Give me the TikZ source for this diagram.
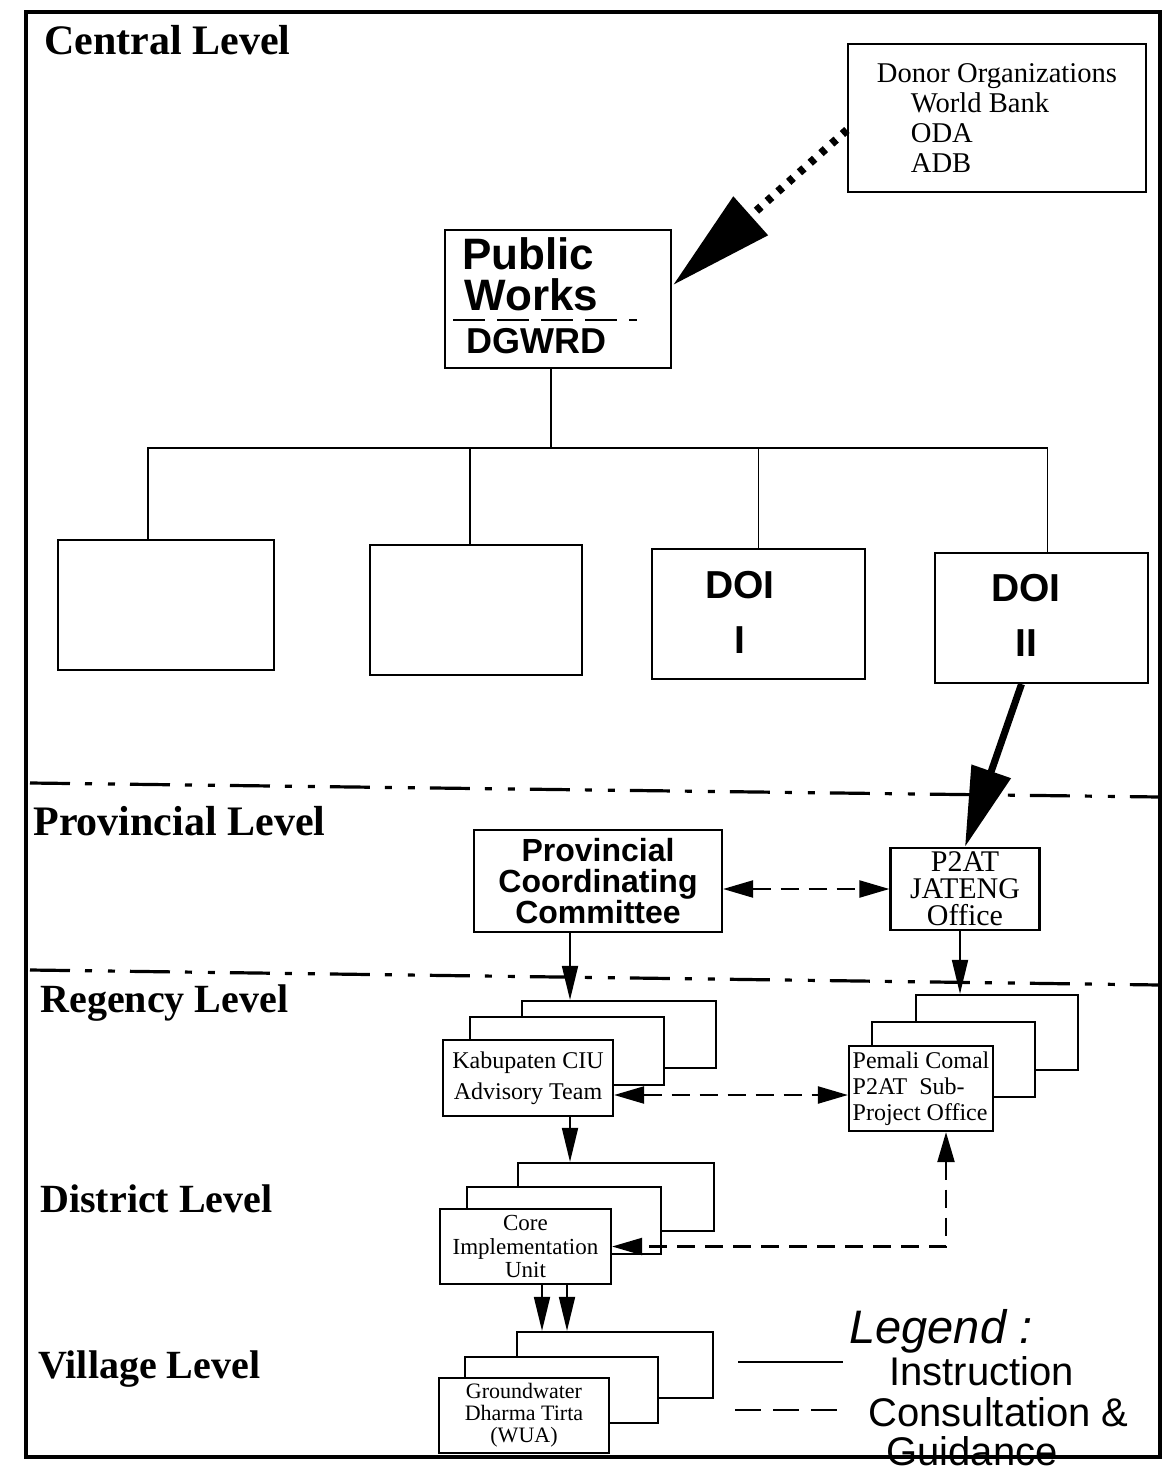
\documentclass[tikz,border=0pt]{standalone}
\usepackage{fontspec}
\setmainfont{Liberation Serif}
\setsansfont{Liberation Sans}
\usetikzlibrary{arrows.meta,positioning,calc}

\begin{document}
\begin{tikzpicture}[x=0.5pt,y=-0.5pt,
  tier/.style={anchor=base west,inner sep=0pt,font=\fontsize{20}{24}\selectfont\bfseries},
  box/.style={draw,line width=1.1pt,fill=white,inner sep=1pt,align=center},
  doitext/.style={align=center,inner sep=0pt,font=\fontsize{19.5}{27.5}\selectfont\sffamily\bfseries},
  legtext/.style={anchor=base west,inner sep=0pt,font=\fontsize{20}{22}\selectfont\sffamily},
  instr/.style={-{Triangle[length=17pt,width=8pt]},line width=0.9pt},
  consult/.style={{Triangle[length=15pt,width=8.5pt]}-{Triangle[length=15pt,width=8.5pt]},line width=1.1pt,dash pattern=on 9pt off 5pt},
  levelline/.style={line width=1.6pt,dash pattern=on 20pt off 7.5pt on 3.5pt off 8pt on 3.5pt off 7.5pt}]
  \useasboundingbox (0,0) rectangle (1167,1471);
  \fill[white] (0,0) rectangle (1167,1471);
  \draw[line width=2pt] (26,12) rectangle (1160,1457);

  % level names
  \node[tier,font=\fontsize{21}{24}\selectfont\bfseries] (central) at (44,55) {Central Level};
  \node[tier,font=\fontsize{21}{24}\selectfont\bfseries] (provincial) at (33,835) {Provincial Level};
  \node[tier] (regency) at (40,1012) {Regency Level};
  \node[tier] (district) at (40,1212) {District Level};
  \node[tier] (village) at (38,1378) {Village Level};

  % level boundaries
  \draw[levelline] (30,783) -- (1160,797);
  \draw[levelline] (30,970) -- (1160,985);

  % central level
  \node[box,align=left,minimum width=149pt,minimum height=74pt,font=\fontsize{14.3}{15}\selectfont] (donor) at (997,118)
    {Donor Organizations\\\hspace*{17pt}World Bank\\\hspace*{17pt}ODA\\\hspace*{17pt}ADB};
  \node[box,minimum width=113pt,minimum height=69pt] (pw) at (558,299) {};
  \node[anchor=base west,inner sep=0pt,font=\fontsize{22}{24}\selectfont\sffamily\bfseries] (pwa) at (462,270) {Public};
  \node[anchor=base west,inner sep=0pt,font=\fontsize{22}{24}\selectfont\sffamily\bfseries] (pwb) at (464,310) {Works};
  \draw[line width=1.3pt,dash pattern=on 16pt off 6pt] (453,320) -- (637,320);
  \node[anchor=base west,inner sep=0pt,font=\fontsize{18}{20}\selectfont\sffamily\bfseries] (dgwrd) at (466,353) {DGWRD};

  \draw[line width=4pt,dash pattern=on 3pt off 4.2pt,-{Triangle[length=52pt,width=25pt]}]
    ($(donor.west)+(0,12)$) -- ($(pw.east)+(1,-14)$);

  \node[box,minimum width=108pt,minimum height=65pt] (dir1) at (166,605) {};
  \node[box,minimum width=106pt,minimum height=65pt] (dir2) at (476,610) {};
  \node[box,minimum width=106.5pt,minimum height=65pt] (doi1) at (758.5,614) {};
  \node[box,minimum width=106.5pt,minimum height=65pt] (doi2) at (1041.5,618) {};
  \node[doitext] (doi1txt) at (740,612) {DOI\\I};
  \node[doitext] (doi2txt) at (1026,615) {DOI\\II};

  \coordinate (hub) at (551,448);
  \draw[line width=0.9pt] (hub |- pw.south) -- (hub);
  \draw[line width=0.9pt] (hub) -| ($(dir1.north)+(-18,0)$);
  \draw[line width=0.9pt] (hub) -| ($(dir2.north)+(-6,0)$);
  \draw[line width=0.9pt] (hub) -| (doi1.north);
  \draw[line width=0.9pt] (hub) -| ($(doi2.north)+(6,0)$);

  % provincial level
  \node[box,font=\fontsize{16}{15.5}\selectfont\sffamily\bfseries,minimum width=124pt,minimum height=51pt] (pcc) at (598,881)
    {Provincial\\Coordinating\\Committee};
  \node[box,font=\fontsize{15}{13.5}\selectfont,minimum width=74.5pt,minimum height=41pt,inner sep=0.5pt] (p2at) at (965,889)
    {P2AT\\JATENG\\Office};
  \draw[line width=3.5pt,-{Triangle[length=40pt,width=20pt]}] ($(doi2.south)+(-20,0)$) -- (p2at.north);
  \draw[consult] (pcc.east |- p2at.west) -- (p2at.west);

  % regency level
  \node[box,minimum width=97pt,minimum height=33.5pt] (kabC) at (619,1034.5) {};
  \node[box,minimum width=97pt,minimum height=34pt] (kabB) at (567,1051) {};
  \node[box,font=\fontsize{12}{15.5}\selectfont,minimum width=85pt,minimum height=38pt] (kabA) at (528,1078)
    {Kabupaten CIU\\Advisory Team};

  \node[box,minimum width=81pt,minimum height=37.5pt] (pemC) at (997,1032.5) {};
  \node[box,minimum width=81.5pt,minimum height=37.5pt] (pemB) at (953.5,1059.5) {};
  \node[box,align=left,font=\fontsize{12}{13}\selectfont,minimum width=72pt,minimum height=42.5pt] (pemA) at (921,1088.5)
    {Pemali Comal\\P2AT\ \ Sub-\\Project Office};

  \coordinate (pccout) at ($(pcc.south)+(-28,0)$);
  \draw[instr] (pccout) -- (pccout |- kabC.north);
  \coordinate (p2atout) at ($(p2at.south)+(-5,0)$);
  \draw[instr] (p2atout) -- (p2atout |- pemC.north);
  \coordinate (pemin) at ($(pemA.west)+(0,6.5)$);
  \draw[consult] (pemin -| kabA.east) -- (pemin);

  % district level
  \node[box,minimum width=98pt,minimum height=34pt] (coreC) at (616,1197) {};
  \node[box,minimum width=97pt,minimum height=33.5pt] (coreB) at (564,1220.5) {};
  \node[box,font=\fontsize{11.5}{11.75}\selectfont,minimum width=85.5pt,minimum height=37.5pt] (coreA) at (525.5,1246.5)
    {Core\\Implementation\\Unit};

  \coordinate (kabout) at ($(kabA.south)+(42,0)$);
  \draw[instr] (kabout) -- (kabout |- coreC.north);
  \coordinate (pemup) at ($(pemA.south)+(25,0)$);
  \draw[consult] (pemup) |- (coreA.east);

  % village level
  \node[box,minimum width=98pt,minimum height=33pt] (gwC) at (615,1365) {};
  \node[box,minimum width=96.5pt,minimum height=33pt] (gwB) at (561.5,1390) {};
  \node[box,font=\fontsize{11}{11}\selectfont,minimum width=85pt,minimum height=37.5pt] (gwA) at (524,1415.5)
    {Groundwater\\Dharma Tirta\\(WUA)};

  \coordinate (coreoutA) at ($(coreA.south)+(16.5,0)$);
  \coordinate (coreoutB) at ($(coreA.south)+(41.5,0)$);
  \draw[instr] (coreoutA) -- (coreoutA |- gwC.north);
  \draw[instr] (coreoutB) -- (coreoutB |- gwC.north);

  % legend
  \node[anchor=base west,inner sep=0pt,font=\fontsize{23.5}{24}\selectfont\sffamily\itshape] (legend) at (849,1343) {Legend :};
  \coordinate (instrA) at (738,1362);
  \coordinate (instrB) at (843,1362);
  \draw[line width=1pt] (instrA) -- (instrB);
  \node[legtext] (instrtxt) at (889,1385) {Instruction};
  \coordinate (consA) at (735,1410);
  \coordinate (consB) at (843,1410);
  \draw[line width=1pt,dash pattern=on 13pt off 6pt] (consA) -- (consB);
  \node[legtext] (constxt) at (868,1426) {Consultation \&};
  \node[legtext] (guidtxt) at (886,1465) {Guidance};
\end{tikzpicture}
\end{document}
